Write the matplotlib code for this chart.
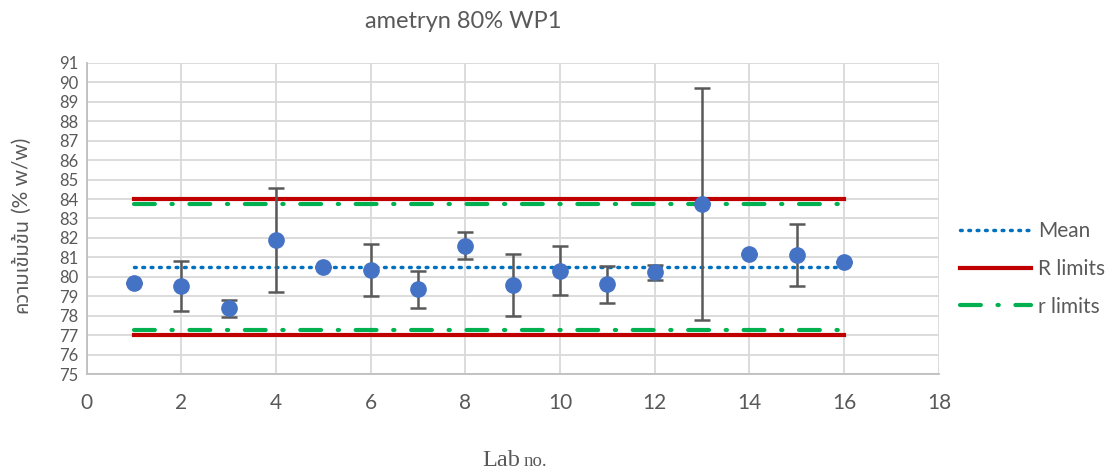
import matplotlib
matplotlib.use("Agg")
import matplotlib.pyplot as plt
from matplotlib.lines import Line2D

# ข้อมูลจากกราฟ
labs = [1, 2, 3, 4, 5, 6, 7, 8, 9, 10, 11, 12, 13, 14, 15, 16]
values = [79.67, 79.53, 78.38, 81.88, 80.51, 80.35, 79.36, 81.6,
          79.58, 80.32, 79.61, 80.23, 83.75, 81.16, 81.12, 80.78]
errors = [0, 1.27, 0.43, 2.68, 0, 1.32, 0.95, 0.68,
          1.58, 1.27, 0.95, 0.4, 5.95, 0, 1.6, 0]
mean_val = 80.5
R_limits = [77.0, 84.0]
r_limits = [77.27, 83.75]

plt.rcParams['font.family'] = ['Lato', 'DejaVu Sans']
grey = '#595959'
mean_style = (0, (0.5, 1.9))
r_style = (0, (5, 4, 0.3, 4))

fig = plt.figure(figsize=(11.19, 4.72), dpi=100)
ax = fig.add_axes([0.0775, 0.2076, 0.7615, 0.659])

x_line = [labs[0], labs[-1]]
ax.plot(x_line, [mean_val, mean_val], color='#0070C0', lw=2.5,
        linestyle=mean_style, dash_capstyle='round', zorder=3)
for v in R_limits:
    ax.plot(x_line, [v, v], color='#C00000', lw=3, zorder=3)
for v in r_limits:
    ax.plot(x_line, [v, v], color='#00B050', lw=3,
            linestyle=r_style, dash_capstyle='round', zorder=3)

ax.errorbar(labs, values, yerr=errors, fmt='o', color='#4472C4', ms=11,
            ecolor=grey, elinewidth=1.8, capsize=6, capthick=1.8, zorder=4)

ax.set_xlim(0, 18)
ax.set_ylim(75, 91)
ax.set_xticks(range(0, 19, 2))
ax.set_yticks(range(75, 92))
ax.grid(True, color='#D9D9D9', lw=1.3)
ax.set_axisbelow(True)
for s in ['top', 'right']:
    ax.spines[s].set_visible(False)
for s in ['left', 'bottom']:
    ax.spines[s].set_color('#BFBFBF')
    ax.spines[s].set_linewidth(1.3)
ax.tick_params(length=0, colors=grey)
ax.tick_params(axis='x', labelsize=15, pad=14)
ax.tick_params(axis='y', labelsize=12, pad=6)

fig.text(0.414, 1 - 21 / 472, 'ametryn 80% WP1', ha='center', va='center',
         fontsize=17, color=grey)

# ชื่อแกน x : Lab ตัวใหญ่ no. ตัวเล็ก
fig.text(520 / 1119, 1 - 466 / 472, 'Lab', ha='right', va='baseline',
         fontsize=17.5, family='Liberation Serif', color=grey)
fig.text(524 / 1119, 1 - 466 / 472, 'no.', ha='left', va='baseline',
         fontsize=13.5, family='Liberation Serif', color=grey)

# ชื่อแกน y : ภาษาไทยตัวเล็ก ต่อด้วยหน่วย
fig.text(22 / 1119, 1 - 218 / 472, 'ความเข้มข้น', rotation=90, ha='center',
         va='top', fontsize=14.5, color=grey, fontweight='light',
         family=['Noto Sans Thai', 'Noto Sans', 'DejaVu Sans'])
fig.text(22 / 1119, 1 - 213 / 472, '(% w/w)', rotation=90, ha='center',
         va='bottom', fontsize=15, color=grey)

handles = [
    Line2D([], [], color='#0070C0', lw=2.5, linestyle=mean_style,
           dash_capstyle='round'),
    Line2D([], [], color='#C00000', lw=3),
    Line2D([], [], color='#00B050', lw=3, linestyle=r_style,
           dash_capstyle='round'),
]
fig.legend(handles, ['Mean', 'R limits', 'r limits'], loc='center left',
           bbox_to_anchor=(960 / 1119, 1 - 269 / 472), frameon=False,
           fontsize=15, handlelength=3.4, handletextpad=0.35,
           labelspacing=0.85, borderpad=0, borderaxespad=0,
           labelcolor=grey)

fig.savefig('out.png', dpi=100)
